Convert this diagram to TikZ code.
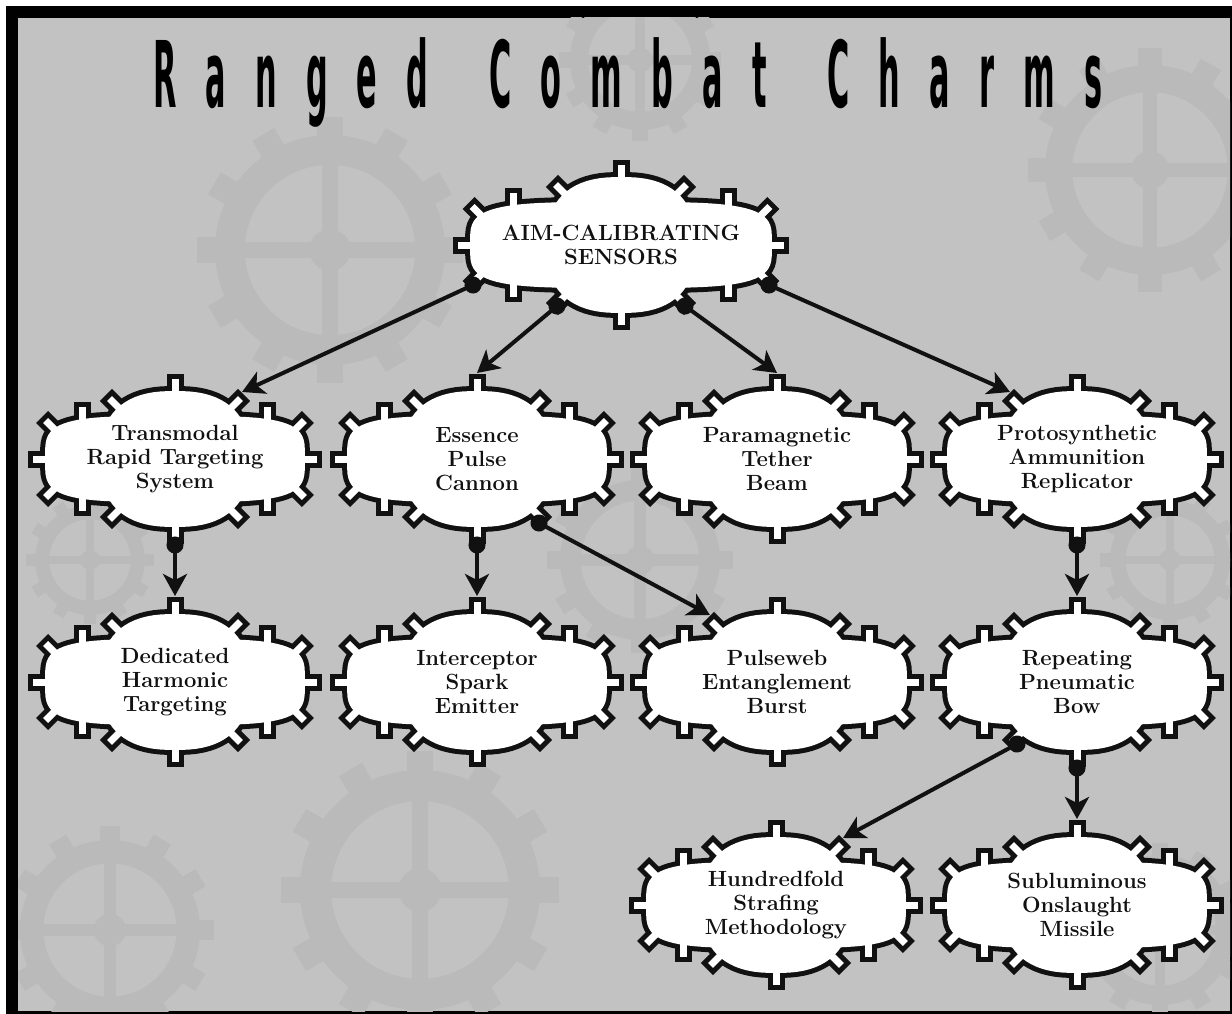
\documentclass[tikz,border=0pt]{standalone}
\usepackage{fontspec}
\usepackage{graphicx}
\usetikzlibrary{calc,arrows.meta}
\newfontfamily\titlefont[LetterSpace=96]{DejaVu Sans}
\definecolor{panel}{HTML}{C2C2C2}
\definecolor{gearc}{HTML}{BABABA}
\definecolor{inkc}{HTML}{111111}
\tikzset{
  rimpart/.style={draw=inkc,fill=inkc,line width=10pt},
  fillpart/.style={fill=white},
  charm/.style={inner sep=0pt,outer sep=0pt,minimum height=172pt,align=center,text=inkc,
    font=\fontsize{22}{24}\selectfont\bfseries},
  link/.style={line width=4pt,inkc,{Circle[length=17pt]}-{Stealth[length=22pt,width=24pt,inset=6pt]},
    shorten <=-8.5pt}
}
% body of one charm: wide oval + central boss + teeth
\newcommand\gearparts[2]{%
  \path[#2] plot[variable=\t,domain=2:362,samples=73]
    ({#1*cos(\t)*(abs(cos(\t))+0.0001)^(-0.5)},{43*sin(\t)*(abs(sin(\t))+0.0001)^(-0.5)}) -- cycle;
  \path[#2] plot[variable=\t,domain=2:362,samples=73]
    ({75*cos(\t)*(abs(cos(\t))+0.0001)^(-0.2)},{68*sin(\t)*(abs(sin(\t))+0.0001)^(-0.2)}) -- cycle;
  \foreach \tx/\ty/\ta in {0/68/90,0/-68/-90,57/52/45,-57/52/135,57/-52/-45,-57/-52/-135,
      0.71*#1/40/90,-0.71*#1/40/90,0.71*#1/-40/-90,-0.71*#1/-40/-90,
      0.93*#1/30/45,-0.93*#1/30/135,0.93*#1/-30/-45,-0.93*#1/-30/-135,
      #1/0/0,-#1/0/180}
    \path[#2,shift={(\tx,\ty)},rotate=\ta] (-6,-3.5) rectangle (12,3.5);
}
\newcommand\gearshape[3]{%
  \begin{scope}[shift={(#1,#2)}]
    \gearparts{#3}{rimpart}
    \gearparts{#3}{fillpart}
  \end{scope}}
% faint cog wheels of the backdrop
\newcommand\bggear[3]{%
  \begin{scope}[shift={(#1,#2)}]
    \fill[gearc] (0,0) circle (#3);
    \foreach \k in {0,30,...,330}
      \fill[gearc,rotate=\k] (#3-2,-0.11*#3) rectangle (1.16*#3,0.11*#3);
    \fill[panel] (0,0) circle (0.74*#3);
    \foreach \k in {0,90,180,270}
      \fill[gearc,rotate=\k] (0,-0.07*#3) rectangle (0.76*#3,0.07*#3);
    \fill[gearc] (0,0) circle (0.18*#3);
  \end{scope}}

\begin{document}
\begin{tikzpicture}[x=1pt,y=1pt]
\useasboundingbox (0,0) rectangle (1232,-1014);
\fill[white] (0,0) rectangle (1232,-1014);
\fill[black] (6,-6) rectangle (1232,-1014);
\fill[panel] (18,-18) rectangle (1230,-1011);

% backdrop
\begin{scope}
  \clip (18,-18) rectangle (1230,-1011);
  \bggear{330}{-250}{115}
  \bggear{1150}{-170}{105}
  \bggear{640}{-560}{80}
  \bggear{1170}{-560}{60}
  \bggear{420}{-890}{120}
  \bggear{90}{-560}{55}
  \bggear{1160}{-930}{75}
  \bggear{110}{-930}{90}
  \bggear{640}{-60}{70}
\end{scope}

\node[anchor=base west,inner sep=0pt] (title) at (153,-108)
  {\scalebox{0.33}[1]{\titlefont\fontsize{92}{92}\bfseries Ranged\hspace{64pt} Combat\hspace{64pt} Charms}};

% charms
\foreach \nm/\px/\py/\hw/\txt in {
  aim/621/-245/151/{AIM-CALIBRATING\\SENSORS},
  trans/175/-459/130/{Transmodal\\Rapid Targeting\\System},
  ess/477/-459/130/{Essence\\Pulse\\Cannon},
  para/777/-459/130/{Paramagnetic\\Tether\\Beam},
  proto/1077/-459/130/{Protosynthetic\\Ammunition\\Replicator},
  ded/175/-682/130/{Dedicated\\Harmonic\\Targeting},
  inter/477/-682/130/{Interceptor\\Spark\\Emitter},
  pulse/777/-682/130/{Pulseweb\\Entanglement\\Burst},
  rep/1077/-682/130/{Repeating\\Pneumatic\\Bow},
  hund/776/-905/130/{Hundredfold\\Strafing\\Methodology},
  sub/1077/-905/130/{Subluminous\\Onslaught\\Missile}}{
  \gearshape{\px}{\py}{\hw}
  \node[charm] (\nm) at (\px,\py) {\txt};
}

% prerequisites
\draw[link] ($(aim)+(-148,-40)$) -- ($(trans)+(67,67)$);
\draw[link] ($(aim)+(-64,-61)$) -- (ess.north);
\draw[link] ($(aim)+(64,-61)$) -- (para.north);
\draw[link] ($(aim)+(148,-40)$) -- ($(proto)+(-67,67)$);
\draw[link] (trans.south) -- (ded.north);
\draw[link] (ess.south) -- (inter.north);
\draw[link] ($(ess)+(62,-64)$) -- ($(pulse)+(-67,67)$);
\draw[link] (proto.south) -- (rep.north);
\draw[link] ($(rep)+(-60,-62)$) -- ($(hund)+(67,67)$);
\draw[link] (rep.south) -- (sub.north);
\end{tikzpicture}
\end{document}
